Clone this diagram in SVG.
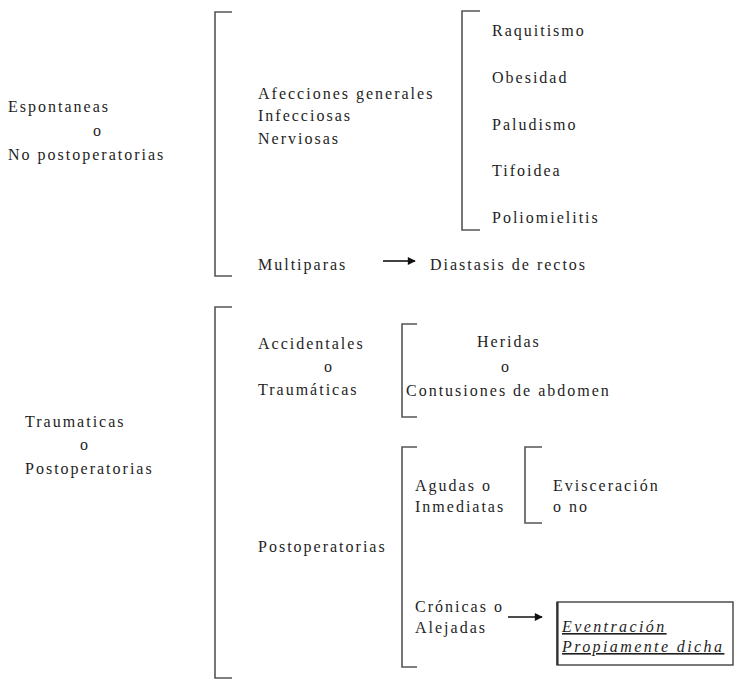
<svg xmlns="http://www.w3.org/2000/svg" width="736" height="681" viewBox="0 0 736 681">
<style>
text{font-family:"Liberation Serif","Times New Roman",serif;font-size:16px;letter-spacing:2px;fill:#1e1e1e}
.it{font-style:italic;text-decoration:underline}
.br{fill:none;stroke:#555;stroke-width:1.6}
.ar{stroke:#111;stroke-width:1.6;fill:none}
</style>
<defs>
<marker id="ah" viewBox="0 0 10 10" refX="9" refY="5" markerWidth="6" markerHeight="5" orient="auto" markerUnits="strokeWidth">
<path d="M0,0 L10,5 L0,10 z" fill="#111"/>
</marker>
</defs>
<rect width="736" height="681" fill="#fff"/>
<g id="connectors">
<path class="br" d="M232,12 H215 V276 H232"/>
<path class="br" d="M480,11 H462 V230 H480"/>
<path class="br" d="M232,307 H215 V678 H232"/>
<path class="br" d="M417,324 H402 V417 H417"/>
<path class="br" d="M417,447 H402 V667 H417"/>
<path class="br" d="M542,447 H525 V523 H542"/>
<line class="ar" x1="383" y1="261" x2="415" y2="261" marker-end="url(#ah)"/>
<line class="ar" x1="508" y1="617" x2="542" y2="617" marker-end="url(#ah)"/>
</g>
<g id="espontaneas">
<text x="8" y="112">Espontaneas</text>
<text x="93" y="136">o</text>
<text x="8" y="160">No postoperatorias</text>
</g>
<g id="afecciones">
<text x="258" y="99">Afecciones generales</text>
<text x="258" y="121">Infecciosas</text>
<text x="258" y="144">Nerviosas</text>
</g>
<g id="enfermedades">
<text x="492" y="36">Raquitismo</text>
<text x="492" y="83">Obesidad</text>
<text x="492" y="130">Paludismo</text>
<text x="492" y="176">Tifoidea</text>
<text x="492" y="223">Poliomielitis</text>
</g>
<g id="multiparas"><text x="258" y="270">Multiparas</text></g>
<g id="diastasis"><text x="430" y="270">Diastasis de rectos</text></g>
<g id="traumaticas">
<text x="25" y="427">Traumaticas</text>
<text x="80" y="450">o</text>
<text x="25" y="474">Postoperatorias</text>
</g>
<g id="accidentales">
<text x="258" y="349">Accidentales</text>
<text x="324" y="372">o</text>
<text x="258" y="395">Traumáticas</text>
</g>
<g id="heridas">
<text x="477" y="347">Heridas</text>
<text x="501" y="372">o</text>
<text x="406" y="396">Contusiones de abdomen</text>
</g>
<g id="postoperatorias"><text x="258" y="552">Postoperatorias</text></g>
<g id="agudas">
<text x="415" y="491">Agudas o</text>
<text x="415" y="512">Inmediatas</text>
</g>
<g id="evisceracion">
<text x="553" y="491">Evisceración</text>
<text x="553" y="512">o no</text>
</g>
<g id="cronicas">
<text x="415" y="612">Crónicas o</text>
<text x="415" y="633">Alejadas</text>
</g>
<g id="eventracion">
<rect x="557" y="602" width="176" height="63" fill="none" stroke="#333" stroke-width="1.3"/>
<line x1="557.5" y1="602" x2="557.5" y2="665" stroke="#333" stroke-width="2.2"/>
<text class="it" x="562" y="632" style="letter-spacing:2.4px">Eventración</text>
<text class="it" x="562" y="652" style="letter-spacing:2.4px">Propiamente dicha</text>
</g>
</svg>
